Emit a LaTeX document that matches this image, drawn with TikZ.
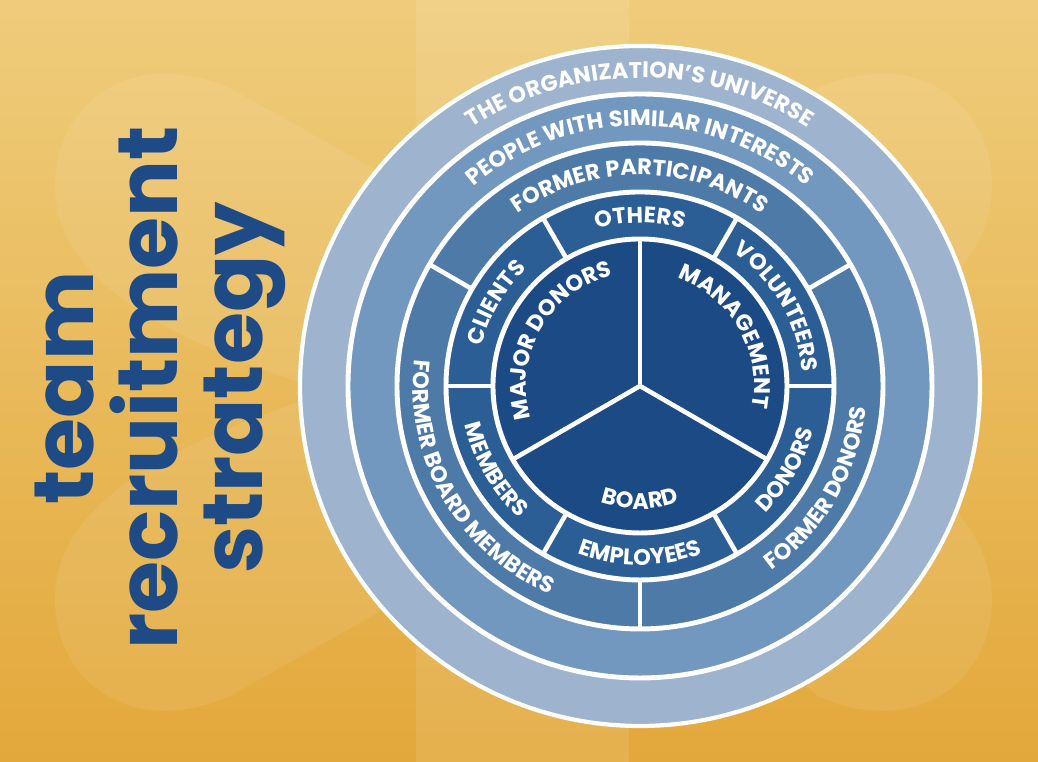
\documentclass[tikz,border=0pt]{standalone}
\usepackage{fontspec}
\usetikzlibrary{decorations.text}
\newfontfamily\poppins{Poppins}
\newcommand\ringfont{\poppins\bfseries\fontsize{6.4}{7}\selectfont}
\newcommand\titlefont{\poppins\bfseries\fontsize{24}{24}\selectfont}
\definecolor{bgtop}{HTML}{EFCC7B}
\definecolor{bgbot}{HTML}{E3A83B}
\definecolor{uniblue}{HTML}{9EB3CE}
\definecolor{simblue}{HTML}{7398BF}
\definecolor{formblue}{HTML}{4E7AA8}
\definecolor{midblue}{HTML}{2B5E95}
\definecolor{coreblue}{HTML}{1C4A85}
\definecolor{titleblue}{HTML}{1E4B86}
\tikzset{
  ring/.style={draw=white, line width=1.4pt},
  split/.style={white, line width=1.3pt},
  ringtext/.style={decorate, decoration={text along path, text align=center,
      text color=white, text={|\ringfont|#1}}},
}
\begin{document}
\begin{tikzpicture}[x=0.01cm, y=0.01cm]
  \useasboundingbox (0,0) rectangle (1038,762);
  % background
  \shade[top color=bgtop, bottom color=bgbot] (0,0) rectangle (1038,762);
  \fill[white, opacity=.1] (416,0) rectangle (629,762);
  \begin{scope}[shift={(0,762)}, yscale=-1]
    \fill[white, opacity=.08] (770,392) -- (230,88)
      .. controls (130,45) and (55,105) .. (55,185)
      .. controls (55,265) and (130,330) .. (330,392)
      .. controls (130,455) and (55,520) .. (55,600)
      .. controls (55,680) and (130,740) .. (230,696) -- cycle;
    \fill[white, opacity=.08] (520,392) -- (817,88)
      .. controls (917,45) and (992,105) .. (992,185)
      .. controls (992,265) and (917,330) .. (760,392)
      .. controls (917,455) and (992,520) .. (992,600)
      .. controls (992,680) and (917,740) .. (817,696) -- cycle;
  \end{scope}
  % title
  \node[rotate=90, align=center, font=\titlefont, text=titleblue, inner sep=0pt]
    (title) at (160,374) {team\\recruitment\\strategy};
  % rings
  \begin{scope}[shift={(640,376)}]
    \filldraw[ring, fill=uniblue, line width=1.2pt] (0,0) circle[radius=340];
    \filldraw[ring, fill=simblue] (0,0) circle[radius=292];
    \filldraw[ring, fill=formblue] (0,0) circle[radius=243];
    \filldraw[ring, fill=midblue] (0,0) circle[radius=194];
    \filldraw[ring, fill=coreblue] (0,0) circle[radius=147];
    \foreach \a in {30,150,270}
      \draw[split] (\a:194) -- (\a:243);
    \foreach \a in {0,60,...,300}
      \draw[split] (\a:147) -- (\a:194);
    \foreach \a in {90,210,330}
      \draw[split] (0,0) -- (\a:147);
    % outer labels
    \path[ringtext={THE ORGANIZATION’S UNIVERSE}] (170:308) arc[start angle=170, end angle=10, radius=308];
    \path[ringtext={PEOPLE WITH SIMILAR INTERESTS}] (170:260) arc[start angle=170, end angle=10, radius=260];
    \path[ringtext={FORMER PARTICI{PA}NTS}] (150:211) arc[start angle=150, end angle=30, radius=211];
    \path[ringtext={FORMER BOARD MEMBERS}] (150:227) arc[start angle=150, end angle=270, radius=227];
    \path[ringtext={FORMER DONORS}] (270:227) arc[start angle=270, end angle=390, radius=227];
    % middle ring labels
    \path[ringtext={OTHERS}] (120:163) arc[start angle=120, end angle=60, radius=163];
    \path[ringtext={CLIENTS}] (180:163) arc[start angle=180, end angle=120, radius=163];
    \path[ringtext={VOLUNTEERS}] (60:163) arc[start angle=60, end angle=0, radius=163];
    \path[ringtext={MEMBERS}] (180:179) arc[start angle=180, end angle=240, radius=179];
    \path[ringtext={EMPLOYEES}] (240:179) arc[start angle=240, end angle=300, radius=179];
    \path[ringtext={DONORS}] (300:179) arc[start angle=300, end angle=360, radius=179];
    % core labels
    \path[ringtext={MAJOR DONORS}] (210:114) arc[start angle=210, end angle=90, radius=114];
    \path[ringtext={MANAGEMENT}] (90:114) arc[start angle=90, end angle=-30, radius=114];
    \path[ringtext={BOARD}] (210:123) arc[start angle=210, end angle=330, radius=123];
  \end{scope}
\end{tikzpicture}
\end{document}
